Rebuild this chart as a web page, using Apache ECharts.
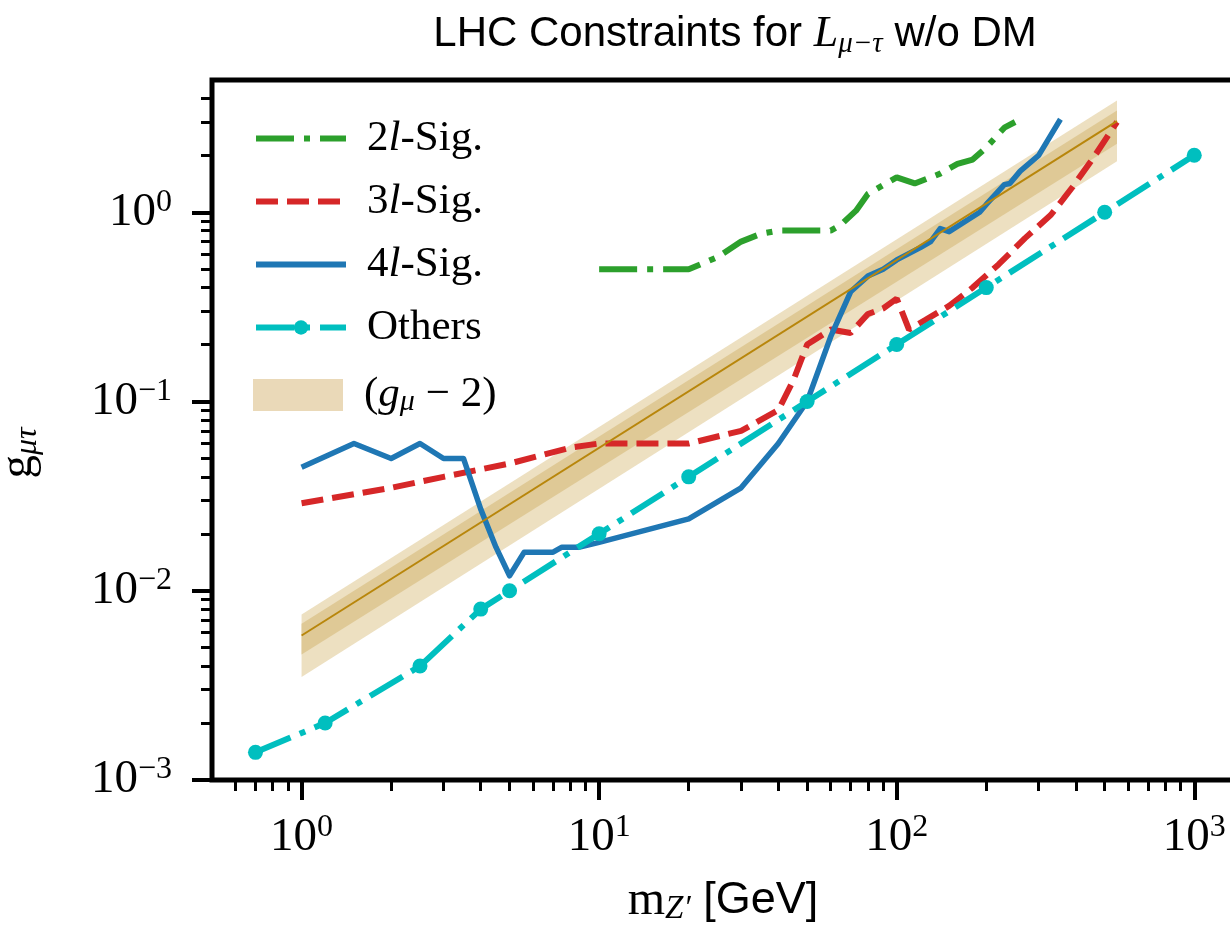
<!DOCTYPE html>
<html>
<head>
<meta charset="UTF-8">
<title>LHC Constraints for L_mu-tau w/o DM</title>
<script src="https://cdn.jsdelivr.net/npm/echarts@6/dist/echarts.min.js"></script>
<style>
  html, body { margin: 0; padding: 0; background: #fff; }
  #chart { width: 1230px; height: 926px; }
</style>
</head>
<body>
<div id="chart"></div>
<script>
  // 2l-Sig. (green dash-dot)
  const sig2X = [10, 20, 25, 30, 35, 40, 60, 65, 73, 80, 100, 115, 140, 160, 180, 200, 230, 250];
  const sig2Y = [0.5, 0.5, 0.58, 0.7, 0.77, 0.8, 0.8, 0.86, 1.02, 1.25, 1.53, 1.42, 1.6, 1.8, 1.9, 2.2, 2.8, 3.0];

  // 3l-Sig. (red dashed)
  const sig3X = [1, 2, 3, 5, 8, 10, 20, 30, 40, 45, 50, 60, 70, 80, 90, 100, 110, 125, 150, 180, 220, 270, 330, 390, 460, 550];
  const sig3Y = [0.029, 0.035, 0.04, 0.047, 0.057, 0.06, 0.06, 0.07, 0.09, 0.13, 0.2, 0.24, 0.23, 0.29, 0.31, 0.35, 0.24, 0.27, 0.32, 0.4, 0.53, 0.73, 0.97, 1.36, 1.96, 3.0];

  // 4l-Sig. (blue solid)
  const sig4X = [1, 1.5, 2, 2.5, 3, 3.5, 4, 4.5, 5, 5.6, 7, 7.5, 8.6, 10, 20, 30, 40, 50, 60, 70, 80, 90, 100, 120, 130, 140, 150, 190, 200, 230, 240, 260, 300, 355];
  const sig4Y = [0.045, 0.06, 0.05, 0.06, 0.05, 0.05, 0.027, 0.017, 0.012, 0.016, 0.016, 0.017, 0.017, 0.018, 0.024, 0.035, 0.06, 0.1, 0.22, 0.38, 0.46, 0.5, 0.56, 0.65, 0.7, 0.82, 0.79, 1.0, 1.1, 1.4, 1.42, 1.65, 2.0, 3.1];

  // Others (cyan dash-dot with dots)
  const othersX = [0.7, 1.2, 2.5, 4, 5, 10, 20, 50, 100, 200, 500, 1000];
  const othersY = [0.0014, 0.002, 0.004, 0.008, 0.01, 0.02, 0.04, 0.1, 0.2, 0.4, 1.0, 2.0];

  // (g_mu - 2) band, read at its two ends
  const bandX = [1, 550];
  const bandMid = [0.0058, 3.03];
  const bandInnerLo = [0.0046, 2.3];
  const bandInnerHi = [0.0067, 3.45];
  const bandOuterLo = [0.0035, 1.86];
  const bandOuterHi = [0.0075, 3.9];

  // ticks
  const majorX = [1, 10, 100, 1000];
  const majorY = [0.001, 0.01, 0.1, 1];
  const minorX = [];
  [0.1, 1, 10, 100].forEach(d => {
    for (let k = 2; k <= 9; k++) {
      const v = +(k * d).toPrecision(3);
      if (v > 0.5 && v < 1360) minorX.push(v);
    }
  });
  const minorY = [];
  [0.001, 0.01, 0.1, 1].forEach(d => {
    for (let k = 2; k <= 9; k++) {
      const v = +(k * d).toPrecision(3);
      if (v < 5) minorY.push(v);
    }
  });

  const zip = (xs, ys) => xs.map((x, i) => [x, ys[i]]);

  const serif = 'Liberation Serif';
  const sans = 'Liberation Sans';

  function pow10Label(v) {
    const k = Math.round(Math.log10(v));
    return '{b|10}{s|' + (k < 0 ? '\u2212' + (-k) : k) + '}';
  }
  const tickRich = {
    b: { fontFamily: serif, fontSize: 47, lineHeight: 52, color: '#000' },
    s: { fontFamily: serif, fontSize: 32, lineHeight: 32, verticalAlign: 'top', color: '#000' }
  };

  const legendNames = {
    '2l-Sig.': '{sp|}{t|2}{i|l}{t|-Sig.}',
    '3l-Sig.': '{sp|}{t|3}{i|l}{t|-Sig.}',
    '4l-Sig.': '{sp|}{t|4}{i|l}{t|-Sig.}',
    'Others': '{sp|}{t|Others}',
    '(g-2)': '{sp|}{t|(}{i|g}{sub|\u03bc}{t| \u2212 2)}'
  };
  function legendRich(lh) {
    return {
      sp: { width: 16, lineHeight: lh },
      t: { fontFamily: serif, fontSize: 43, lineHeight: lh, color: '#000' },
      i: { fontFamily: serif, fontStyle: 'italic', fontSize: 43, lineHeight: lh, color: '#000' },
      sub: { fontFamily: serif, fontStyle: 'italic', fontSize: 30, lineHeight: lh, padding: [14, 0, 0, 0], color: '#000' }
    };
  }

  const chart = echarts.init(document.getElementById('chart'));
  chart.setOption({
    animation: false,
    backgroundColor: '#fff',
    title: {
      text: '{a|LHC Constraints for }{L|L}{s|\u03bc\u2212\u03c4}{a| w/o DM}',
      left: 730,
      top: 4,
      textAlign: 'center',
      textStyle: {
        fontWeight: 'normal',
        rich: {
          a: { fontFamily: sans, fontWeight: 'normal', fontSize: 42, lineHeight: 50, color: '#000' },
          L: { fontFamily: serif, fontWeight: 'normal', fontStyle: 'italic', fontSize: 44, lineHeight: 50, color: '#000' },
          s: { fontFamily: serif, fontWeight: 'normal', fontStyle: 'italic', fontSize: 29, lineHeight: 26, verticalAlign: 'bottom', color: '#000' }
        }
      }
    },
    grid: {
      left: 212, top: 80, right: -4, bottom: 146,
      show: true, borderColor: '#000', borderWidth: 5,
      outerBoundsMode: 'none'
    },
    legend: [
      {
        data: [
          { name: '2l-Sig.', itemStyle: { opacity: 0 } },
          { name: '3l-Sig.', itemStyle: { opacity: 0 } },
          { name: '4l-Sig.', itemStyle: { opacity: 0 } },
          { name: 'Others' }
        ],
        orient: 'vertical',
        left: 248, top: 112,
        itemWidth: 90, itemHeight: 18, itemGap: 20,
        selectedMode: false,
        lineStyle: { width: 6 },
        formatter: n => legendNames[n],
        textStyle: { lineHeight: 18, rich: legendRich(18) }
      },
      {
        data: [{ name: '(g-2)', icon: 'rect' }],
        orient: 'vertical',
        left: 248, top: 368,
        itemWidth: 90, itemHeight: 32,
        selectedMode: false,
        formatter: n => legendNames[n],
        textStyle: { lineHeight: 32, rich: legendRich(32) }
      }
    ],
    xAxis: [
      {
        type: 'log', logBase: 10, min: 0.5, max: 1360, position: 'bottom',
        axisLine: { show: false, onZero: false },
        axisTick: { show: true, inside: false, length: 20, customValues: majorX, lineStyle: { color: '#000', width: 4 } },
        axisLabel: { customValues: majorX, margin: 32, formatter: pow10Label, rich: tickRich },
        splitLine: { show: false },
        minorTick: { show: false },
        name: '{m|m}{s|Z\u2032}{t| [GeV]}',
        nameLocation: 'middle', nameGap: 96,
        nameTextStyle: {
          rich: {
            m: { fontFamily: serif, fontSize: 48, lineHeight: 50, color: '#000' },
            s: { fontFamily: serif, fontStyle: 'italic', fontSize: 33, lineHeight: 26, verticalAlign: 'bottom', color: '#000' },
            t: { fontFamily: sans, fontSize: 45, lineHeight: 50, color: '#000' }
          }
        }
      },
      {
        type: 'log', logBase: 10, min: 0.5, max: 1360, position: 'bottom',
        axisLine: { show: false, onZero: false },
        axisTick: { show: true, inside: false, length: 11, customValues: minorX, lineStyle: { color: '#000', width: 3 } },
        axisLabel: { show: false },
        splitLine: { show: false }
      }
    ],
    yAxis: [
      {
        type: 'log', logBase: 10, min: 0.001, max: 5, position: 'left',
        axisLine: { show: false, onZero: false },
        axisTick: { show: true, inside: false, length: 20, customValues: majorY, lineStyle: { color: '#000', width: 4 } },
        axisLabel: { customValues: majorY, margin: 40, formatter: pow10Label, rich: tickRich },
        splitLine: { show: false },
        name: '{g|g}{s|\u03bc\u03c4}',
        nameLocation: 'middle', nameRotate: 90, nameGap: 168,
        nameTextStyle: {
          padding: [0, 46, 0, 0],
          rich: {
            g: { fontFamily: serif, fontSize: 47, lineHeight: 50, color: '#000' },
            s: { fontFamily: serif, fontStyle: 'italic', fontSize: 32, lineHeight: 26, verticalAlign: 'bottom', color: '#000' }
          }
        }
      },
      {
        type: 'log', logBase: 10, min: 0.001, max: 5, position: 'left',
        axisLine: { show: false, onZero: false },
        axisTick: { show: true, inside: false, length: 11, customValues: minorY, lineStyle: { color: '#000', width: 3 } },
        axisLabel: { show: false },
        splitLine: { show: false }
      }
    ],
    series: [
      {
        name: '(g-2)',
        type: 'custom',
        z: 1,
        itemStyle: { color: '#ead9b8' },
        data: [[bandX[0], bandMid[0]]],
        renderItem: function (params, api) {
          const poly = (lo, hi, fill) => {
            const pts = bandX.map((x, i) => api.coord([x, hi[i]]));
            for (let i = bandX.length - 1; i >= 0; i--) pts.push(api.coord([bandX[i], lo[i]]));
            return { type: 'polygon', shape: { points: pts }, style: { fill: fill } };
          };
          return {
            type: 'group',
            children: [
              poly(bandOuterLo, bandOuterHi, '#ede0c1'),
              poly(bandInnerLo, bandInnerHi, '#dfc996')
            ]
          };
        }
      },
      {
        name: '2l-Sig.', type: 'line', z: 3,
        data: zip(sig2X, sig2Y),
        symbol: 'none',
        color: '#2ca02c',
        lineStyle: { color: '#2ca02c', width: 6, type: [38, 10, 6, 10] }
      },
      {
        name: '3l-Sig.', type: 'line', z: 3,
        data: zip(sig3X, sig3Y),
        symbol: 'none',
        color: '#d62728',
        lineStyle: { color: '#d62728', width: 6, type: [22, 9] }
      },
      {
        name: '4l-Sig.', type: 'line', z: 3,
        data: zip(sig4X, sig4Y),
        symbol: 'none',
        color: '#1f77b4',
        lineStyle: { color: '#1f77b4', width: 5.5, join: 'round' }
      },
      {
        name: 'Others', type: 'line', z: 4,
        data: zip(othersX, othersY),
        symbol: 'circle', symbolSize: 15,
        color: '#00bfbf',
        itemStyle: { color: '#00bfbf' },
        lineStyle: { color: '#00bfbf', width: 6, type: [38, 10, 6, 10] }
      },
      {
        name: 'center', type: 'line', z: 5,
        data: zip(bandX, bandMid),
        symbol: 'none',
        lineStyle: { color: '#b8860b', width: 2 }
      }
    ]
  });
</script>
</body>
</html>
